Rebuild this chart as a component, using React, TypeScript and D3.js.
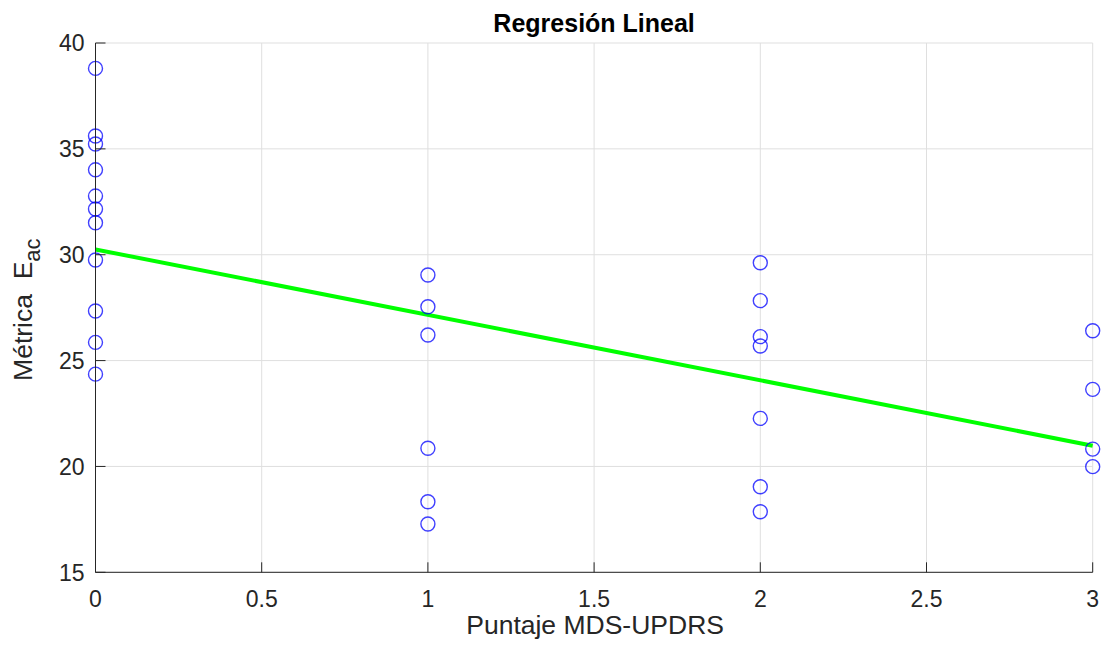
import { useEffect, useRef } from "react";
import * as d3 from "d3";

const width = 1108;
const height = 648;
const margin = { top: 43, right: 15.3, bottom: 75.7, left: 95.5 };

// puntaje MDS-UPDRS por grupo y metrica E_ac
const x0 = [38.8, 35.61, 35.23, 34.01, 32.77, 32.16, 31.51, 29.75, 27.34, 25.86, 24.36];
const x1 = [29.04, 27.54, 26.21, 20.86, 18.33, 17.28];
const x2 = [29.62, 27.83, 26.13, 25.69, 22.27, 19.04, 17.86];
const x3 = [26.41, 23.64, 20.82, 19.99];
const groups = [x0, x1, x2, x3];

// recta ajustada
const fitIntercept = 30.25;
const fitSlope = -3.09;

const xTicks = [0, 0.5, 1, 1.5, 2, 2.5, 3];
const yTicks = [15, 20, 25, 30, 35, 40];

const font = "'Liberation Sans', Arial, Helvetica, sans-serif";
const axisColor = "#262626";

export default function App() {
  const ref = useRef<SVGSVGElement>(null);

  useEffect(() => {
    const svg = d3.select(ref.current);
    svg.selectAll("*").remove();

    const innerW = width - margin.left - margin.right;
    const innerH = height - margin.top - margin.bottom;

    const x = d3.scaleLinear().domain([0, 3]).range([0, innerW]);
    const y = d3.scaleLinear().domain([15, 40]).range([innerH, 0]);

    svg.append("rect").attr("width", width).attr("height", height).attr("fill", "#fff");

    const g = svg.append("g").attr("transform", `translate(${margin.left},${margin.top})`);

    // grid
    g.selectAll(".gx")
      .data(xTicks)
      .join("line")
      .attr("x1", (d) => x(d))
      .attr("x2", (d) => x(d))
      .attr("y1", 0)
      .attr("y2", innerH)
      .attr("stroke", "#dfdfdf")
      .attr("stroke-width", 1);
    g.selectAll(".gy")
      .data(yTicks)
      .join("line")
      .attr("x1", 0)
      .attr("x2", innerW)
      .attr("y1", (d) => y(d))
      .attr("y2", (d) => y(d))
      .attr("stroke", "#dfdfdf")
      .attr("stroke-width", 1);

    // points
    const pts = groups.flatMap((vals, i) => vals.map((v) => ({ x: i, y: v })));

    // regression line
    const line = d3
      .line<number>()
      .x((d) => x(d))
      .y((d) => y(fitIntercept + fitSlope * d));
    g.append("path")
      .attr("d", line([0, 3]))
      .attr("fill", "none")
      .attr("stroke", "#00ff00")
      .attr("stroke-width", 4);

    g.selectAll(".pt")
      .data(pts)
      .join("circle")
      .attr("cx", (d) => x(d.x))
      .attr("cy", (d) => y(d.y))
      .attr("r", 7)
      .attr("fill", "none")
      .attr("stroke", "#0000ff")
      .attr("stroke-opacity", 0.75)
      .attr("stroke-width", 1.4);

    // axes
    g.append("line")
      .attr("x1", 0).attr("x2", 0).attr("y1", 0).attr("y2", innerH)
      .attr("stroke", axisColor);
    g.append("line")
      .attr("x1", 0).attr("x2", innerW).attr("y1", innerH).attr("y2", innerH)
      .attr("stroke", axisColor);

    g.selectAll(".tx")
      .data(xTicks)
      .join("line")
      .attr("x1", (d) => x(d))
      .attr("x2", (d) => x(d))
      .attr("y1", innerH)
      .attr("y2", innerH - 10)
      .attr("stroke", axisColor);
    g.selectAll(".ty")
      .data(yTicks)
      .join("line")
      .attr("x1", 0)
      .attr("x2", 10)
      .attr("y1", (d) => y(d))
      .attr("y2", (d) => y(d))
      .attr("stroke", axisColor);

    g.selectAll(".lx")
      .data(xTicks)
      .join("text")
      .attr("x", (d) => x(d))
      .attr("y", innerH + 35)
      .attr("text-anchor", "middle")
      .attr("font-family", font)
      .attr("font-size", 23)
      .attr("fill", axisColor)
      .text((d) => String(d));
    g.selectAll(".ly")
      .data(yTicks)
      .join("text")
      .attr("x", -11)
      .attr("y", (d) => y(d))
      .attr("dy", "0.36em")
      .attr("text-anchor", "end")
      .attr("font-family", font)
      .attr("font-size", 23)
      .attr("fill", axisColor)
      .text((d) => String(d));

    // labels
    svg.append("text")
      .attr("x", margin.left + innerW / 2 + 1)
      .attr("y", 634)
      .attr("text-anchor", "middle")
      .attr("font-family", font)
      .attr("font-size", 26.5)
      .attr("fill", axisColor)
      .text("Puntaje MDS-UPDRS");

    const yl = svg.append("text")
      .attr("transform", `translate(32,${margin.top + innerH / 2 + 2}) rotate(-90)`)
      .attr("text-anchor", "middle")
      .attr("font-family", font)
      .attr("font-size", 26.5)
      .attr("fill", axisColor)
      .attr("xml:space", "preserve");
    yl.append("tspan").text("Métrica  E");
    yl.append("tspan").attr("font-size", 22).attr("dy", 8).text("ac");

    svg.append("text")
      .attr("x", margin.left + innerW / 2)
      .attr("y", 32)
      .attr("text-anchor", "middle")
      .attr("font-family", font)
      .attr("font-size", 25)
      .attr("font-weight", "bold")
      .attr("fill", "#000")
      .text("Regresión Lineal");
  }, []);

  return (
    <svg
      ref={ref}
      width={width}
      height={height}
      style={{ position: "absolute", left: 0, top: 0, display: "block" }}
    />
  );
}
